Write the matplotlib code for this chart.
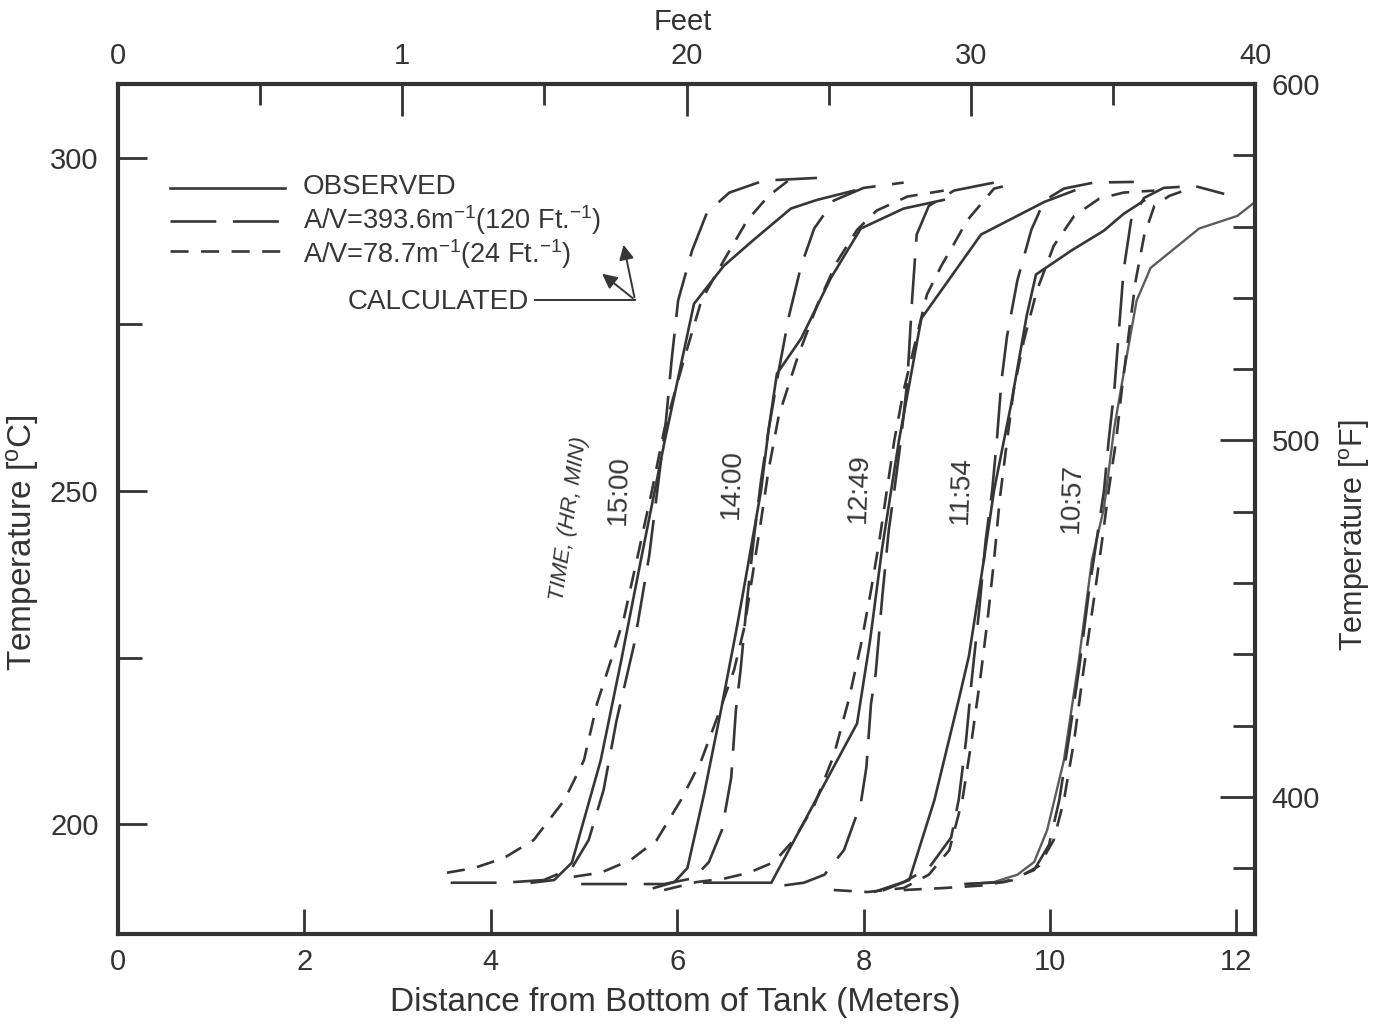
import numpy as np
import matplotlib
matplotlib.use("Agg")
import matplotlib.pyplot as plt

# данные: расстояние от дна бака (м) и температура (°C)
times = ["15:00", "14:00", "12:49", "11:54", "10:57"]

# наблюдаемые профили
obs_1500_x = [4.44, 4.68, 4.87, 5.18, 5.40, 5.61, 5.86, 6.18, 6.50, 6.82, 7.22, 7.50, 7.90]
obs_1500_t = [191.2, 191.6, 194.2, 209.6, 224.6, 239.6, 257.1, 278.1, 283.8, 287.7, 292.4, 293.7, 295.1]
obs_1400_x = [5.75, 5.97, 6.11, 6.29, 6.47, 6.64, 6.75, 6.90, 6.98, 7.07, 7.33, 7.65, 7.97, 8.43, 8.86]
obs_1400_t = [190.4, 191.3, 193.4, 204.6, 217.1, 229.5, 238.1, 250.1, 259.1, 267.6, 272.9, 282.0, 289.4, 292.4, 293.7]
obs_1249_x = [6.29, 7.01, 7.93, 8.07, 8.20, 8.38, 8.62, 9.26, 9.94, 10.26]
obs_1249_t = [191.2, 191.2, 215.1, 227.6, 241.5, 257.6, 275.9, 288.5, 293.4, 295.1]
obs_1154_x = [8.22, 8.49, 8.76, 9.02, 9.13, 9.29, 9.40, 9.58, 9.75, 9.85, 10.23, 10.58, 10.79, 11.01]
obs_1154_t = [190.1, 191.6, 203.6, 218.6, 225.2, 239.6, 250.1, 262.8, 276.3, 282.5, 286.1, 289.1, 291.6, 293.6]
obs_1057_x = [9.11, 9.40, 9.65, 9.83, 9.97, 10.15, 10.31, 10.45, 10.58, 10.69, 10.79, 10.93, 11.08, 11.60, 12.01, 12.22]
obs_1057_t = [191.0, 191.3, 192.4, 194.3, 199.1, 209.6, 224.6, 239.6, 247.5, 259.5, 267.6, 278.6, 283.5, 289.4, 291.3, 293.6]

# расчёт, A/V = 393.6 1/м
av1_1500_x = [3.57, 4.14, 4.57, 4.87, 5.05, 5.21, 5.35, 5.54, 5.70, 5.80, 5.88, 5.94, 6.01, 6.16, 6.32, 6.56, 6.93, 7.50]
av1_1500_t = [191.2, 191.2, 191.6, 193.4, 197.6, 205.1, 215.6, 227.1, 240.3, 251.6, 260.6, 269.6, 278.6, 286.1, 291.8, 294.8, 296.6, 297.0]
av1_1400_x = [4.97, 5.50, 5.86, 6.18, 6.34, 6.48, 6.58, 6.63, 6.68, 6.75, 6.82, 6.90, 6.98, 7.09, 7.20, 7.33, 7.47, 7.68, 8.00, 8.43]
av1_1400_t = [191.0, 191.0, 191.0, 191.9, 194.3, 199.1, 207.0, 217.1, 223.1, 233.6, 242.6, 251.6, 259.1, 268.1, 276.3, 283.8, 289.4, 293.6, 295.5, 296.3]
av1_1249_x = [7.15, 7.36, 7.58, 7.79, 7.97, 8.03, 8.08, 8.13, 8.20, 8.27, 8.33, 8.40, 8.47, 8.52, 8.57, 8.70, 8.97, 9.40]
av1_1249_t = [190.8, 191.2, 192.4, 196.1, 203.1, 208.5, 218.1, 222.6, 234.0, 244.1, 250.1, 257.6, 266.6, 278.6, 288.5, 292.8, 295.1, 296.3]
av1_1154_x = [8.11, 8.43, 8.70, 8.94, 9.02, 9.10, 9.16, 9.24, 9.31, 9.38, 9.43, 9.48, 9.54, 9.65, 9.80, 9.94, 10.15, 10.47, 10.90]
av1_1154_t = [189.8, 191.3, 193.4, 198.0, 203.6, 212.6, 221.6, 232.1, 242.6, 250.1, 257.6, 266.6, 273.3, 281.6, 289.2, 293.6, 295.4, 296.3, 296.4]
av1_1057_x = [9.08, 9.51, 9.83, 9.99, 10.10, 10.20, 10.31, 10.42, 10.50, 10.58, 10.63, 10.69, 10.74, 10.79, 10.87, 11.01, 11.22, 11.55, 11.87]
av1_1057_t = [191.0, 191.3, 193.1, 196.9, 203.6, 212.6, 223.1, 235.1, 242.6, 250.1, 257.6, 265.1, 274.1, 283.1, 290.6, 294.0, 295.5, 295.8, 294.6]

# расчёт, A/V = 78.7 1/м
av2_1500_x = [3.53, 3.82, 4.14, 4.46, 4.79, 5.00, 5.14, 5.29, 5.43, 5.59, 5.73, 5.86, 6.07, 6.26, 6.50, 6.75, 6.98, 7.22]
av2_1500_t = [192.7, 193.4, 194.9, 197.6, 203.6, 209.6, 218.1, 224.6, 231.0, 241.1, 250.1, 259.1, 269.6, 278.6, 284.6, 290.6, 294.3, 296.9]
av2_1400_x = [4.89, 5.18, 5.50, 5.78, 6.04, 6.26, 6.43, 6.61, 6.72, 6.80, 6.90, 6.98, 7.09, 7.29, 7.50, 7.71, 7.93, 8.14, 8.47, 8.86]
av2_1400_t = [192.1, 192.7, 194.6, 197.6, 203.6, 209.6, 216.0, 223.1, 229.5, 236.6, 245.6, 253.1, 261.3, 270.0, 277.8, 284.3, 289.2, 292.1, 294.2, 295.1]
av2_1249_x = [5.86, 6.21, 6.50, 6.77, 7.04, 7.25, 7.47, 7.68, 7.84, 7.97, 8.08, 8.17, 8.25, 8.33, 8.43, 8.56, 8.68, 8.83, 8.97, 9.11, 9.40, 9.61]
av2_1249_t = [190.1, 191.3, 191.8, 192.7, 194.3, 197.6, 202.8, 210.3, 218.6, 226.8, 235.1, 242.6, 250.1, 257.6, 265.1, 272.6, 279.5, 283.7, 287.1, 290.6, 295.4, 296.1]
av2_1154_x = [7.68, 8.04, 8.43, 8.70, 8.92, 9.06, 9.16, 9.25, 9.33, 9.40, 9.46, 9.54, 9.61, 9.72, 9.86, 10.04, 10.26, 10.53, 10.79, 11.12]
av2_1154_t = [190.1, 189.8, 190.4, 192.4, 196.1, 203.6, 212.6, 221.6, 230.6, 239.6, 248.6, 257.6, 265.1, 272.6, 280.1, 286.8, 291.3, 293.9, 294.8, 295.1]
av2_1057_x = [8.43, 8.86, 9.29, 9.61, 9.88, 10.04, 10.15, 10.26, 10.36, 10.47, 10.56, 10.63, 10.71, 10.77, 10.85, 10.92, 11.01, 11.12, 11.28, 11.44]
av2_1057_t = [190.1, 190.4, 190.8, 191.6, 193.7, 197.6, 203.6, 212.6, 223.1, 233.6, 242.6, 250.1, 257.6, 265.1, 274.1, 281.6, 288.3, 292.8, 294.3, 295.1]

# подписи времени (положение в м / °C)
time_x = [5.38, 6.59, 7.95, 9.05, 10.24]
time_t = [250.1, 251.1, 250.5, 250.1, 249.0]

# шкалы
meter_ticks = [0, 2, 4, 6, 8, 10, 12]
feet_ticks = [0, 10, 20, 30, 40]
feet_labels = ["0", "1", "20", "30", "40"]
feet_minor = [5, 15, 25, 35]
degc_ticks = [200, 250, 300]
degc_minor = [225, 275]
degf_ticks = [400, 500, 600]
degf_minor = [380, 420, 440, 460, 480, 520, 540, 560, 580]

plt.rcParams['font.family'] = ['Liberation Sans', 'DejaVu Sans']
plt.rcParams['mathtext.fontset'] = 'custom'
plt.rcParams['mathtext.rm'] = 'Liberation Sans'
plt.rcParams['mathtext.it'] = 'Liberation Sans:italic'
plt.rcParams['lines.scale_dashes'] = False

ink = '#363636'
long_dash = (33, 12)
short_dash = (13, 9)

fig = plt.figure(figsize=(13.84, 10.24), dpi=100)
ax = fig.add_axes([118 / 1384, 90 / 1024, 1137 / 1384, 850 / 1024])
ax.set_xlim(0, 12.2)
ax.set_ylim(183.5, 311.1)

obs = [(obs_1500_x, obs_1500_t), (obs_1400_x, obs_1400_t), (obs_1249_x, obs_1249_t),
       (obs_1154_x, obs_1154_t), (obs_1057_x, obs_1057_t)]
av1 = [(av1_1500_x, av1_1500_t), (av1_1400_x, av1_1400_t), (av1_1249_x, av1_1249_t),
       (av1_1154_x, av1_1154_t), (av1_1057_x, av1_1057_t)]
av2 = [(av2_1500_x, av2_1500_t), (av2_1400_x, av2_1400_t), (av2_1249_x, av2_1249_t),
       (av2_1154_x, av2_1154_t), (av2_1057_x, av2_1057_t)]

for i, (x, t) in enumerate(obs):
    # последняя кривая на скане светлее
    c = '#5c5c5c' if i == 4 else ink
    ax.plot(x, t, color=c, lw=1.7 if i == 4 else 1.9, solid_joinstyle='miter')
for x, t in av1:
    ax.plot(x, t, color=ink, lw=1.9, dashes=long_dash, dash_joinstyle='round')
for x, t in av2:
    ax.plot(x, t, color=ink, lw=1.9, dashes=short_dash, dash_joinstyle='round')

for name, x, t in zip(times, time_x, time_t):
    ax.text(x, t, name, rotation=88, ha='center', va='center', fontsize=20, color=ink)
ax.text(4.84, 245.9, "TIME, (HR, MIN)", rotation=82, style='italic', ha='center',
        va='center', fontsize=16, color=ink)

# легенда вручную
ax.plot([0.0457, 0.1469], [0.8776, 0.8776], transform=ax.transAxes, color=ink, lw=1.9)
ax.plot([0.0457, 0.1513], [0.8388, 0.8388], transform=ax.transAxes, color=ink, lw=1.9,
        dashes=long_dash)
ax.plot([0.0457, 0.1530], [0.8035, 0.8035], transform=ax.transAxes, color=ink, lw=1.9,
        dashes=short_dash)
ax.text(0.1627, 0.8790, "OBSERVED", transform=ax.transAxes, va='center', fontsize=20, color=ink)
ax.text(0.1627, 0.8400, r"A/V=393.6m$^{-1}$(120 Ft.$^{-1}$)", transform=ax.transAxes,
        va='center', fontsize=19.5, color=ink)
ax.text(0.1627, 0.8000, r"A/V=78.7m$^{-1}$(24 Ft.$^{-1}$)", transform=ax.transAxes,
        va='center', fontsize=19.5, color=ink)
ax.text(0.2023, 0.7435, "CALCULATED", transform=ax.transAxes, va='center', fontsize=20, color=ink)
ax.plot([0.3668, 0.4547], [0.7459, 0.7459], transform=ax.transAxes, color=ink, lw=1.4)
for tip in [(0.4441, 0.8141), (0.4239, 0.7788)]:
    ax.annotate("", xy=tip, xytext=(0.4547, 0.7459), xycoords='axes fraction',
                arrowprops=dict(arrowstyle='-|>', color=ink, lw=1.4, mutation_scale=22))

# оси
for s in ax.spines.values():
    s.set_linewidth(3)
    s.set_color('#333333')

ax.set_xticks(meter_ticks)
ax.set_yticks(degc_ticks)
ax.set_yticks(degc_minor, minor=True)
ax.tick_params(axis='x', direction='in', length=18, width=2, pad=10, labelsize=21,
               colors='#333333', top=False)
ax.tick_params(axis='y', which='major', direction='in', length=21, width=2, pad=14,
               labelsize=21, colors='#333333', right=False)
ax.tick_params(axis='y', which='minor', direction='in', length=17, width=2, right=False,
               colors='#333333')
ax.set_xlabel("Distance from Bottom of Tank (Meters)", fontsize=24, color='#333333')
ax.xaxis.set_label_coords(0.49, -0.062)
ax.set_ylabel(r"Temperature [$^{\rm o}$C]", fontsize=24, color='#333333')
ax.yaxis.set_label_coords(-0.068, 0.461)

ax_top = ax.twiny()
ax_top.set_xlim(0, 40)
ax_top.set_xticks(feet_ticks)
ax_top.set_xticklabels(feet_labels)
ax_top.set_xticks(feet_minor, minor=True)
ax_top.tick_params(axis='x', which='major', direction='in', length=23, width=2, pad=10,
                   labelsize=21, colors='#333333')
ax_top.tick_params(axis='x', which='minor', direction='in', length=15, width=2,
                   colors='#333333')
ax_top.set_xlabel("Feet", fontsize=21, color='#333333')
ax_top.xaxis.set_label_coords(0.497, 1.064)

ax_right = ax.twinx()
ax_right.set_ylim(361.5, 600)
ax_right.set_yticks(degf_ticks)
ax_right.set_yticks(degf_minor, minor=True)
ax_right.tick_params(axis='y', which='major', direction='in', length=25, width=2, pad=12,
                     labelsize=21, colors='#333333')
ax_right.tick_params(axis='y', which='minor', direction='in', length=16, width=2,
                     colors='#333333')
ax_right.set_ylabel(r"Temperature [$^{\rm o}$F]", fontsize=22, color='#333333')
ax_right.yaxis.set_label_coords(1.072, 0.469)

for a in (ax_top, ax_right):
    for s in a.spines.values():
        s.set_visible(False)

fig.savefig("out.png", dpi=100)
